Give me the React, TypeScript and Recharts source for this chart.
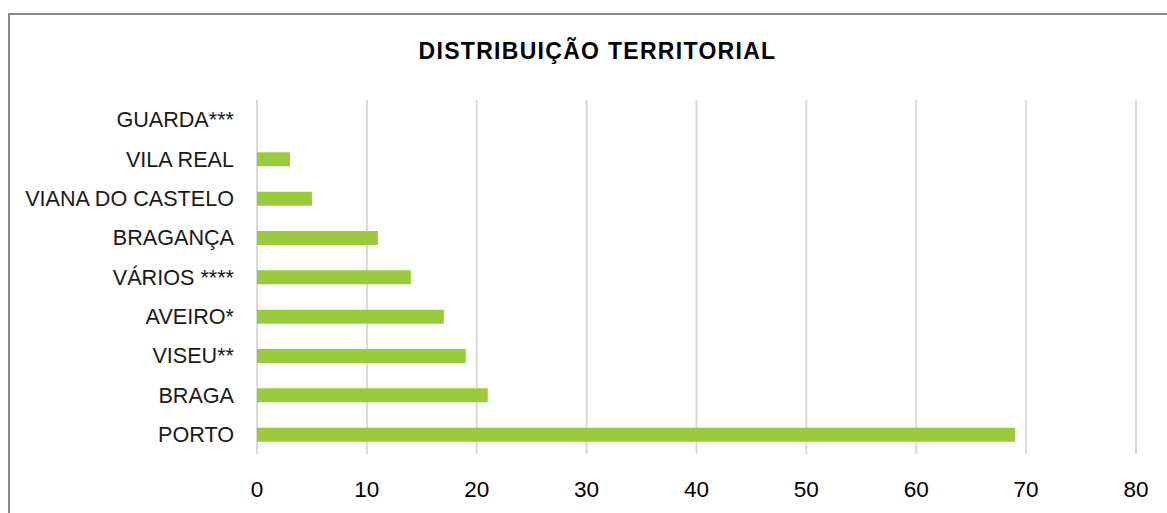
import React from "react";
import { BarChart, Bar, XAxis, YAxis, CartesianGrid } from "recharts";

const categories = [
  "GUARDA***",
  "VILA REAL",
  "VIANA DO CASTELO",
  "BRAGANÇA",
  "VÁRIOS ****",
  "AVEIRO*",
  "VISEU**",
  "BRAGA",
  "PORTO",
];
const values = [0, 3, 5, 11, 14, 17, 19, 21, 69];
const xTicks = [0, 10, 20, 30, 40, 50, 60, 70, 80];
const title = "DISTRIBUIÇÃO TERRITORIAL";

const data = categories.map((name, i) => ({ name, value: values[i] }));

const FONT = "'Liberation Sans', Arial, Helvetica, sans-serif";

export default function App() {
  return (
    <div
      style={{
        position: "absolute",
        left: 0,
        top: 0,
        width: 1167,
        height: 513,
        overflow: "hidden",
        background: "#ffffff",
        fontFamily: FONT,
      }}
    >
      <div
        style={{
          position: "absolute",
          left: 8,
          top: 13,
          width: 1200,
          height: 600,
          border: "2px solid #8a8a8a",
          boxSizing: "border-box",
        }}
      />
      <div
        style={{
          position: "absolute",
          left: 0,
          width: 1195,
          top: 37,
          textAlign: "center",
          fontFamily: FONT,
          fontWeight: 700,
          fontSize: 23,
          letterSpacing: 1.3,
          color: "#000",
          lineHeight: "28px",
        }}
      >
        {title}
      </div>
      <div style={{ position: "absolute", left: 0, top: 0 }}>
        <BarChart
          width={1167}
          height={513}
          data={data}
          layout="vertical"
          margin={{ top: 100, right: 31, bottom: 0, left: 0 }}
          barCategoryGap={0}
        >
          <CartesianGrid
            horizontal={false}
            vertical={true}
            stroke="#d9d9d9"
            strokeWidth={2}
          />
          <XAxis
            type="number"
            domain={[0, 80]}
            ticks={xTicks}
            interval={0}
            axisLine={false}
            tickLine={false}
            height={59}
            tickMargin={21}
            tick={{ fill: "#000", fontSize: 22.5, fontFamily: FONT }}
          />
          <YAxis
            type="category"
            dataKey="name"
            width={257}
            axisLine={false}
            tickLine={false}
            tickMargin={17}
            interval={0}
            tick={{ fill: "#1a1a1a", fontSize: 21.6, fontFamily: FONT }}
          />
          <Bar
            dataKey="value"
            fill="#9ACB3C"
            barSize={14}
            isAnimationActive={false}
          />
        </BarChart>
      </div>
    </div>
  );
}
